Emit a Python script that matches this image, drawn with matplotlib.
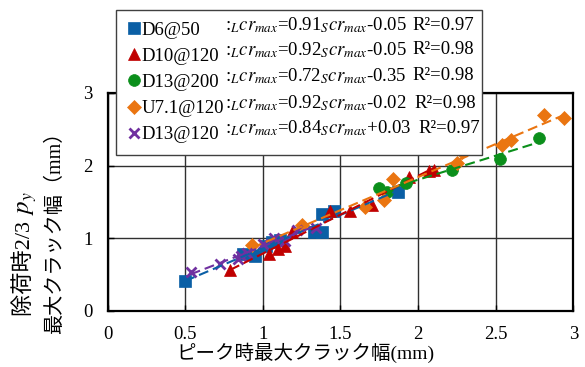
import numpy as np
import matplotlib
matplotlib.use("Agg")
import matplotlib.pyplot as plt
from matplotlib.ticker import FuncFormatter

plt.rcParams['font.family'] = ['Liberation Serif', 'Noto Sans CJK JP']
plt.rcParams['mathtext.fontset'] = 'stix'

# series (x: peak max crack width, y: max crack width after unloading)
names = ['D6@50', 'D10@120', 'D13@200', 'U7.1@120', 'D13@120']
x_d6 = [0.50, 0.875, 0.95, 1.02, 1.06, 1.11, 1.33, 1.38, 1.38, 1.46, 1.87]
y_d6 = [0.41, 0.79, 0.75, 0.90, 0.95, 0.98, 1.09, 1.09, 1.33, 1.37, 1.64]
x_d10 = [0.79, 1.04, 1.10, 1.14, 1.19, 1.43, 1.56, 1.70, 1.94, 2.07, 2.10]
y_d10 = [0.56, 0.79, 0.86, 0.89, 1.09, 1.38, 1.37, 1.46, 1.85, 1.92, 1.94]
x_d13_200 = [1.75, 1.80, 1.92, 2.22, 2.53, 2.78]
y_d13_200 = [1.69, 1.64, 1.76, 1.94, 2.09, 2.38]
x_u71 = [0.93, 1.25, 1.66, 1.78, 1.84, 2.25, 2.28, 2.54, 2.60, 2.81, 2.94]
y_u71 = [0.91, 1.18, 1.43, 1.53, 1.82, 2.03, 2.19, 2.28, 2.35, 2.70, 2.65]
x_d13_120 = [0.535, 0.725, 0.84, 0.86, 0.90, 1.00, 1.07, 1.14, 1.22, 1.34]
y_d13_120 = [0.53, 0.64, 0.72, 0.76, 0.80, 0.92, 1.00, 0.97, 1.11, 1.14]

eqs = [r":${}_{L}cr_{max}$=0.91${}_{S}cr_{max}$-0.05",
       r":${}_{L}cr_{max}$=0.92${}_{S}cr_{max}$-0.05",
       r":${}_{L}cr_{max}$=0.72${}_{S}cr_{max}$-0.35",
       r":${}_{L}cr_{max}$=0.92${}_{S}cr_{max}$-0.02",
       r":${}_{L}cr_{max}$=0.84${}_{S}cr_{max}$+0.03"]
r2 = ["0.97", "0.98", "0.98", "0.98", "0.97"]

xs = [x_d6, x_d10, x_d13_200, x_u71, x_d13_120]
ys = [y_d6, y_d10, y_d13_200, y_u71, y_d13_120]
colors = ['#0b5fa5', '#c00000', '#0b8f1b', '#ea7511', '#7030a0']
markers = ['s', '^', 'o', 'D', 'x']
msizes = [8, 8.5, 8.5, 7, 7.5]

fig = plt.figure(figsize=(5.85, 3.67), dpi=100)
ax = fig.add_axes([0.184, 0.1526, 0.796, 0.594])

handles = []
for x, y, c, m, ms in zip(xs, ys, colors, markers, msizes):
    h, = ax.plot(x, y, linestyle='none', marker=m, color=c, markersize=ms,
                 markeredgewidth=2 if m == 'x' else 0.5, zorder=3)
    handles.append(h)
    k, b = np.polyfit(x, y, 1)
    xl = np.array([min(x), max(x)])
    ax.plot(xl, k * xl + b, color=c, lw=1.5, dashes=(4.8, 2.4), zorder=4)

ax.set_xlim(0, 3)
ax.set_ylim(0, 3)
ax.set_xticks(np.arange(0, 3.01, 0.5))
ax.set_yticks([0, 1, 2, 3])
fmt = FuncFormatter(lambda v, p: f"{v:g}")
ax.xaxis.set_major_formatter(fmt)
ax.yaxis.set_major_formatter(fmt)
ax.tick_params(direction='in', length=4, width=1, labelsize=13.5, pad=11)
ax.grid(True, color='#303030', lw=1)
ax.set_axisbelow(True)
for s in ax.spines.values():
    s.set_linewidth(1.6)

leg = fig.legend(handles, names, loc='upper left',
                 bbox_to_anchor=(116 / 585, 1 - 145 / 367, 366 / 585, 135 / 367),
                 mode='expand', borderaxespad=0, fontsize=13.5,
                 handlelength=0.63, handletextpad=0.1, borderpad=0.62,
                 labelspacing=0.48, fancybox=False, framealpha=1,
                 edgecolor='#404040')
leg.get_frame().set_linewidth(1.0)

row_y = [25, 50, 76, 103, 128]
r2_x = [412, 412, 412, 414, 418]
for yy, e, r, rx in zip(row_y, eqs, r2, r2_x):
    fig.text(225 / 585, 1 - yy / 367, e, fontsize=13.5, va='center', ha='left',
             zorder=10, bbox=dict(facecolor='white', edgecolor='none', pad=1.5))
    fig.text(rx / 585, 1 - yy / 367, "R²=" + r, fontsize=13.5, va='center',
             ha='left', zorder=10)

fig.text(305 / 585, 1 - 353 / 367, "ピーク時最大クラック幅(mm)", fontsize=14,
         ha='center', va='center')
yl1 = fig.text(25 / 585, 1 - 316 / 367, "除荷時2/3 ", fontsize=16, rotation=90,
               ha='center', va='bottom')
fig.text(55 / 585, 1 - 228 / 367, "最大クラック幅（mm）", fontsize=14.5, rotation=90,
         ha='center', va='center')

# italic p_y placed right after the first y-label line
fig.canvas.draw()
bb = yl1.get_window_extent().transformed(fig.transFigure.inverted())
fig.text(bb.x0 + bb.width / 2 + 0.004, bb.y1, "$p_y$", fontsize=18, rotation=90,
         ha='center', va='bottom')

fig.savefig('out.png', dpi=100)
